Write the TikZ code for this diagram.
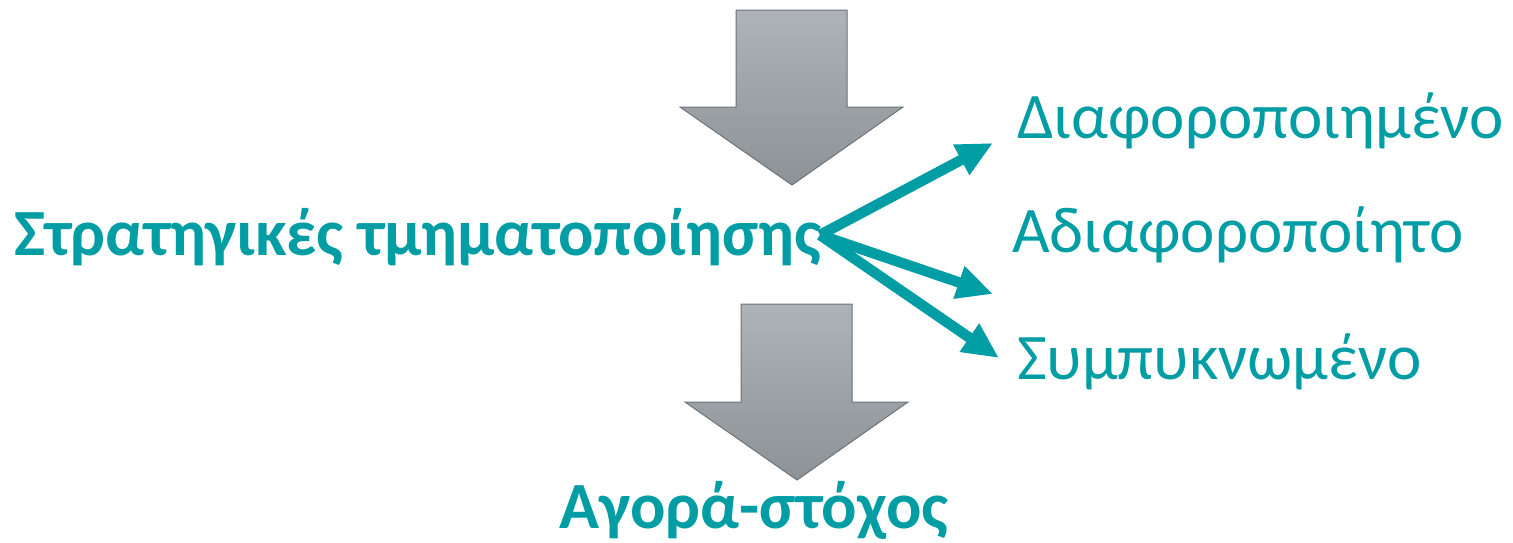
\documentclass[tikz,border=0pt]{standalone}
\usepackage{fontspec}
\setmainfont{Carlito}
\usetikzlibrary{arrows.meta}
\definecolor{teal1}{RGB}{0,158,164}
\definecolor{graytop}{RGB}{174,179,183}
\definecolor{graybot}{RGB}{141,146,151}
\definecolor{grayline}{RGB}{108,115,122}
\tikzset{
  bigarrow/.style={draw=grayline, line width=1pt, top color=graytop, bottom color=graybot, line join=miter},
  label/.style={text=teal1, inner sep=0pt, anchor=base west, font=\fontsize{65}{72}\selectfont},
  boldlabel/.style={label, font=\fontsize{66}{74}\selectfont\bfseries},
  branch/.style={draw=teal1, line width=10.5pt, -{Triangle[length=36pt,width=32pt]}}
}
\begin{document}
\begin{tikzpicture}[x=1pt,y=-1pt]
\useasboundingbox (0,0) rectangle (1513,542);
% down arrows
\path[bigarrow] (736,10) -- (847,10) -- (847,107) -- (903,107) -- (792,185) -- (680,107) -- (736,107) -- cycle;
\path[bigarrow] (741,304) -- (852,304) -- (852,402) -- (908,402) -- (797,480) -- (685,402) -- (741,402) -- cycle;
% texts
\node[boldlabel] (strat) at (14,255) {Στρατηγικές τμηματοποίησης};
\node[label] (diff) at (1017,138) {Διαφοροποιημένο};
\node[label] (undiff) at (1012,252) {Αδιαφοροποίητο};
\node[label] (conc) at (1017,379) {Συμπυκνωμένο};
\node[boldlabel] (target) at (559,528) {Αγορά-στόχος};
% branching connectors
\coordinate (src) at (820,235);
\coordinate (t1) at (993,143);
\coordinate (t2) at (993,294);
\coordinate (t3) at (999,358);
\draw[branch] (src) -- (t1);
\draw[branch] (src) -- (t2);
\draw[branch] (src) -- (t3);
\end{tikzpicture}
\end{document}
